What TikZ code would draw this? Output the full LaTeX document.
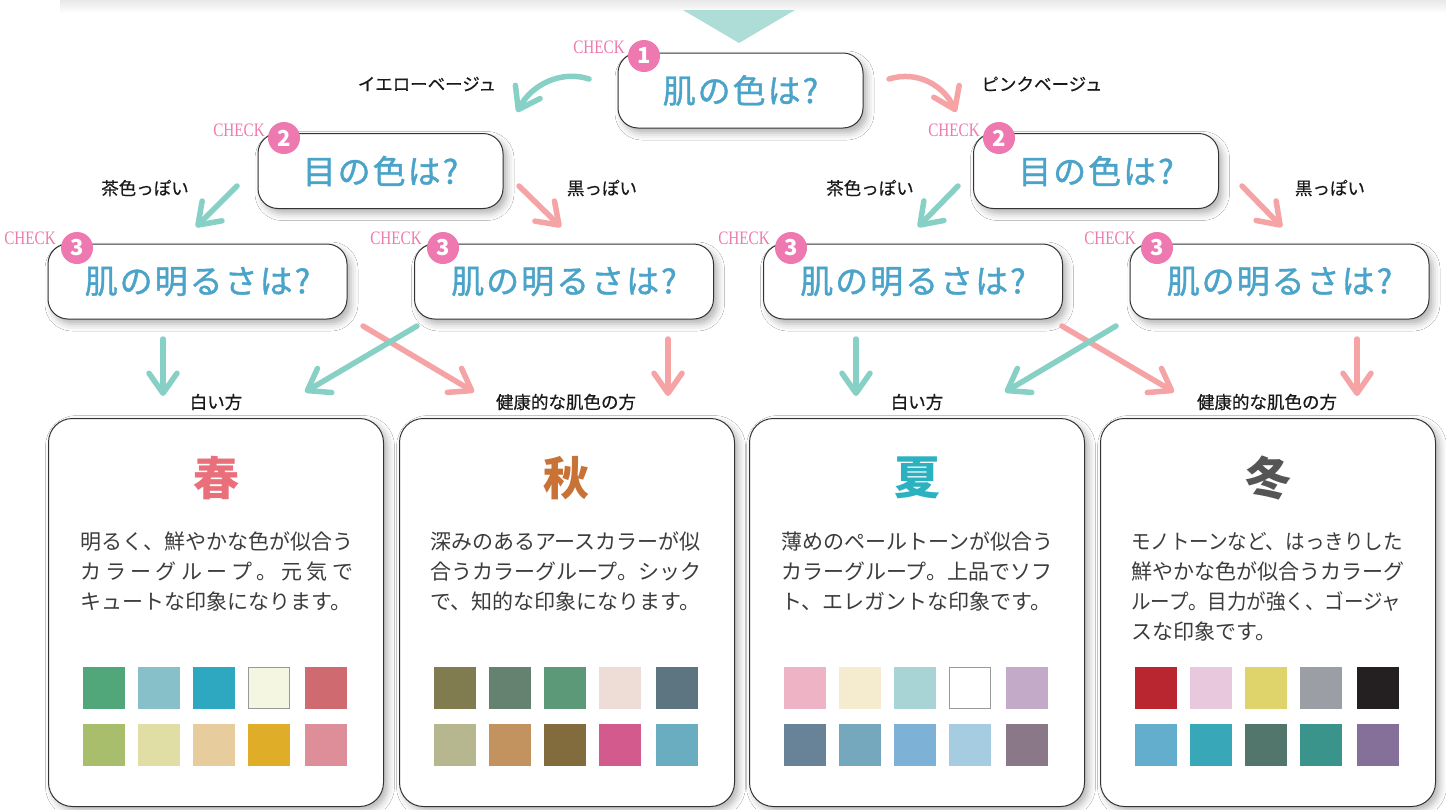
\documentclass[tikz,border=0pt]{standalone}
\usepackage{fontspec}
\usepackage{graphicx}
\setmainfont{Noto Sans CJK JP}
\newfontfamily\qfont{Noto Sans CJK JP}[FakeBold=1.2, LetterSpace=6]
\newfontfamily\lfont{Noto Sans CJK JP}[FakeBold=0.5]
\newfontfamily\chkfont{Liberation Serif}
\usetikzlibrary{arrows.meta,shadows.blur,calc}
\definecolor{qblue}{HTML}{4AA3C9}
\definecolor{bpink}{HTML}{EE78B0}
\definecolor{cpink}{HTML}{EE7AAE}
\definecolor{tealA}{HTML}{87D0C6}
\definecolor{pinkA}{HTML}{F5A3A5}
\definecolor{tri}{HTML}{AEDDD7}
\definecolor{txt}{HTML}{3C3C3C}
\definecolor{spring}{HTML}{E9707A}
\definecolor{autumn}{HTML}{C87236}
\definecolor{summer}{HTML}{2BB1C0}
\definecolor{winter}{HTML}{555555}
\tikzset{
  qbox/.style={draw=black!80, line width=1pt, rounded corners=20pt, fill=white,
    blur shadow={shadow xshift=4pt, shadow yshift=-5pt, shadow blur radius=7pt, shadow opacity=30},
    text=qblue, font=\qfont\fontsize{33}{33}\selectfont, inner sep=0pt},
  sbox/.style={draw=black!80, line width=1pt, rounded corners=24pt, fill=white,
    blur shadow={shadow xshift=4pt, shadow yshift=-4pt, shadow blur radius=7pt, shadow opacity=30},
    minimum width=335pt, minimum height=388pt, inner sep=0pt},
  badge/.style={circle, fill=bpink, text=white, minimum size=32pt, inner sep=0pt,
    font=\bfseries\fontsize{22}{22}\selectfont},
  chk/.style={text=cpink, inner sep=0pt, font=\chkfont\fontsize{19}{19}\selectfont},
  lbl/.style={text=black!90, inner sep=0pt, font=\lfont\fontsize{17.5}{17.5}\selectfont},
  season/.style={inner sep=0pt, font=\bfseries\fontsize{46}{46}\selectfont},
  desc/.style={inner sep=0pt, text=txt, align=left, font=\fontsize{21}{30}\selectfont},
  harrow/.style={line width=5.5pt, line cap=round, line join=round,
    -{Straight Barb[length=20pt,width=28pt,round]}},
  tarrow/.style={harrow, draw=tealA},
  parrow/.style={harrow, draw=pinkA},
}
\newcommand{\chkt}{\scalebox{0.8}[1]{CHECK}}
\newcommand{\sq}[1]{\scalebox{0.93}[1]{#1}}
\begin{document}
\begin{tikzpicture}[x=1pt,y=-1pt]
\useasboundingbox (0,0) rectangle (1446,809);
\fill[white] (0,0) rectangle (1446,809);
% top faint band
\shade[top color=black!9, bottom color=white] (60,0) rectangle (1446,13);
% triangle
\fill[tri] (683,10) -- (795,10) -- (739,43) -- cycle;

% question boxes
\node[qbox, minimum width=245pt, minimum height=75pt] (q1) at (740.5,90.5) {肌の色は?};
\node[qbox, minimum width=245pt, minimum height=75pt] (q2l) at (380.5,171) {目の色は?};
\node[qbox, minimum width=245pt, minimum height=75pt] (q2r) at (1096,171) {目の色は?};
\node[qbox, minimum width=299pt, minimum height=75pt] (q3a) at (197.5,281.5) {肌の明るさは?};
\node[qbox, minimum width=299pt, minimum height=75pt] (q3b) at (564,281.5) {肌の明るさは?};
\node[qbox, minimum width=299pt, minimum height=75pt] (q3c) at (913,281.5) {肌の明るさは?};
\node[qbox, minimum width=299pt, minimum height=75pt] (q3d) at (1279.5,281.5) {肌の明るさは?};

% badges and CHECK
\node[badge] (b1) at (644,56) {1};
\node[chk, anchor=east] (c1) at (625,47) {\chkt};
\node[badge] (b2l) at (284,138) {2};
\node[chk, anchor=east] (c2l) at (265,130) {\chkt};
\node[badge] (b2r) at (999,138) {2};
\node[chk, anchor=east] (c2r) at (980,130) {\chkt};
\node[badge] (b3a) at (77,248) {3};
\node[chk, anchor=east] (c3a) at (56,238) {\chkt};
\node[badge] (b3b) at (443,248) {3};
\node[chk, anchor=east] (c3b) at (422,238) {\chkt};
\node[badge] (b3c) at (791,248) {3};
\node[chk, anchor=east] (c3c) at (770,238) {\chkt};
\node[badge] (b3d) at (1157,248) {3};
\node[chk, anchor=east] (c3d) at (1136,238) {\chkt};

% labels
\node[lbl] (l1) at (427,84) {イエローベージュ};
\node[lbl] (l2) at (1042,84) {ピンクベージュ};
\node[lbl] (l3) at (145,188) {茶色っぽい};
\node[lbl] (l4) at (602,188) {黒っぽい};
\node[lbl] (l5) at (870,188) {茶色っぽい};
\node[lbl] (l6) at (1330,188) {黒っぽい};
\node[lbl] (l7) at (216,402) {白い方};
\node[lbl] (l8) at (566,402) {健康的な肌色の方};
\node[lbl] (l9) at (917,402) {白い方};
\node[lbl] (l10) at (1267,402) {健康的な肌色の方};

% arrow coordinates
\coordinate (t0s) at (589,79);  \coordinate (t0e) at (517,112);
\coordinate (p0s) at (889,79);  \coordinate (p0e) at (956,112);
\coordinate (t1s) at (237,186); \coordinate (t1e) at (196,227);
\coordinate (p1s) at (519,186); \coordinate (p1e) at (561,227);
\coordinate (t2s) at (958,186); \coordinate (t2e) at (918,227);
\coordinate (p2s) at (1242,186);\coordinate (p2e) at (1282,227);
\coordinate (t3s) at (163,339); \coordinate (t3e) at (163,396);
\coordinate (t4s) at (417,326); \coordinate (t4e) at (305,392);
\coordinate (p3s) at (363,326); \coordinate (p3e) at (474,392);
\coordinate (p4s) at (668,339); \coordinate (p4e) at (668,396);
\coordinate (t5s) at (856,339); \coordinate (t5e) at (856,396);
\coordinate (t6s) at (1116,326);\coordinate (t6e) at (1005,392);
\coordinate (p5s) at (1062,326);\coordinate (p5e) at (1174,392);
\coordinate (p6s) at (1357,339);\coordinate (p6e) at (1357,396);

\draw[tarrow] (t0s) .. controls (562,70) and (532,84) .. (t0e);
\draw[parrow] (p0s) .. controls (918,70) and (944,86) .. (p0e);
\draw[tarrow] (t1s) -- (t1e);
\draw[parrow] (p1s) -- (p1e);
\draw[tarrow] (t2s) -- (t2e);
\draw[parrow] (p2s) -- (p2e);
\draw[tarrow] (t3s) -- (t3e);
\draw[parrow] (p3s) -- (p3e);
\draw[tarrow] (t4s) -- (t4e);
\draw[parrow] (p4s) -- (p4e);
\draw[tarrow] (t5s) -- (t5e);
\draw[parrow] (p5s) -- (p5e);
\draw[tarrow] (t6s) -- (t6e);
\draw[parrow] (p6s) -- (p6e);

% season boxes
\node[sbox, anchor=north west] (s1) at (48,418) {};
\node[sbox, anchor=north west] (s2) at (399,418) {};
\node[sbox, anchor=north west] (s3) at (749,418) {};
\node[sbox, anchor=north west] (s4) at (1100,418) {};

\node[season, text=spring] (n1) at (216,478) {春};
\node[season, text=autumn] (n2) at (566,478) {秋};
\node[season, text=summer] (n3) at (917,478) {夏};
\node[season, text=winter] (n4) at (1268,478) {冬};

\node[desc, anchor=north west] (d1) at (80,532) {明るく、鮮やかな色が似合う\\
\makebox[273pt][s]{カ\hfill ラ\hfill ー\hfill グ\hfill ル\hfill ー\hfill プ\hfill 。\hfill 元\hfill 気\hfill で}\\
キュートな印象になります。};
\node[desc, anchor=north west] (d2) at (430,532) {深みのあるアースカラーが似\\合うカラーグループ。シック\\で、知的な印象になります。};
\node[desc, anchor=north west] (d3) at (781,532) {薄めのペールトーンが似合う\\カラーグループ。上品でソフ\\ト、エレガントな印象です。};
\node[desc, anchor=north west] (d4) at (1131,532) {\sq{モノトーンなど、はっきりした}\\鮮やかな色が似合うカラーグ\\\sq{ループ。目力が強く、ゴージャ}\\スな印象です。};

% swatches
\foreach \bx/\cols in {48/{52A77A,87C0C8,2DA8C0,F5F6E1,CF6A70,A8BE6D,E0DDA5,E7CC9D,DFAD27,DE8E99},
                      399/{807C50,658270,5C9978,EDDDD6,5D7580,B6B78F,C3935F,826B3C,D35A8C,6BADC0},
                      749/{EEB4C6,F5EBCF,A9D4D5,FFFFFF,C3AAC8,688397,76A8BD,7DB1D6,A6CCE1,8A7788},
                      1100/{B92630,E8C8DC,DFD46C,9B9EA4,242021,64AECD,38A8B9,52766B,3B948B,85709A}}{
  \foreach \c [count=\i from 0] in \cols {
    \pgfmathtruncatemacro{\col}{mod(\i,5)}
    \pgfmathtruncatemacro{\row}{int(\i/5)}
    \pgfmathsetmacro{\xo}{{35,90,145,200,257}[\col]}
    \definecolor{sw}{HTML}{\c}
    \fill[sw] (\bx+\xo,667+57*\row) rectangle ++(42,42);
  }
}
\draw[black!40, line width=1pt] (48+200.5,667.5) rectangle ++(41,41);
\draw[black!40, line width=1pt] (749+200.5,667.5) rectangle ++(41,41);
\end{tikzpicture}
\end{document}
